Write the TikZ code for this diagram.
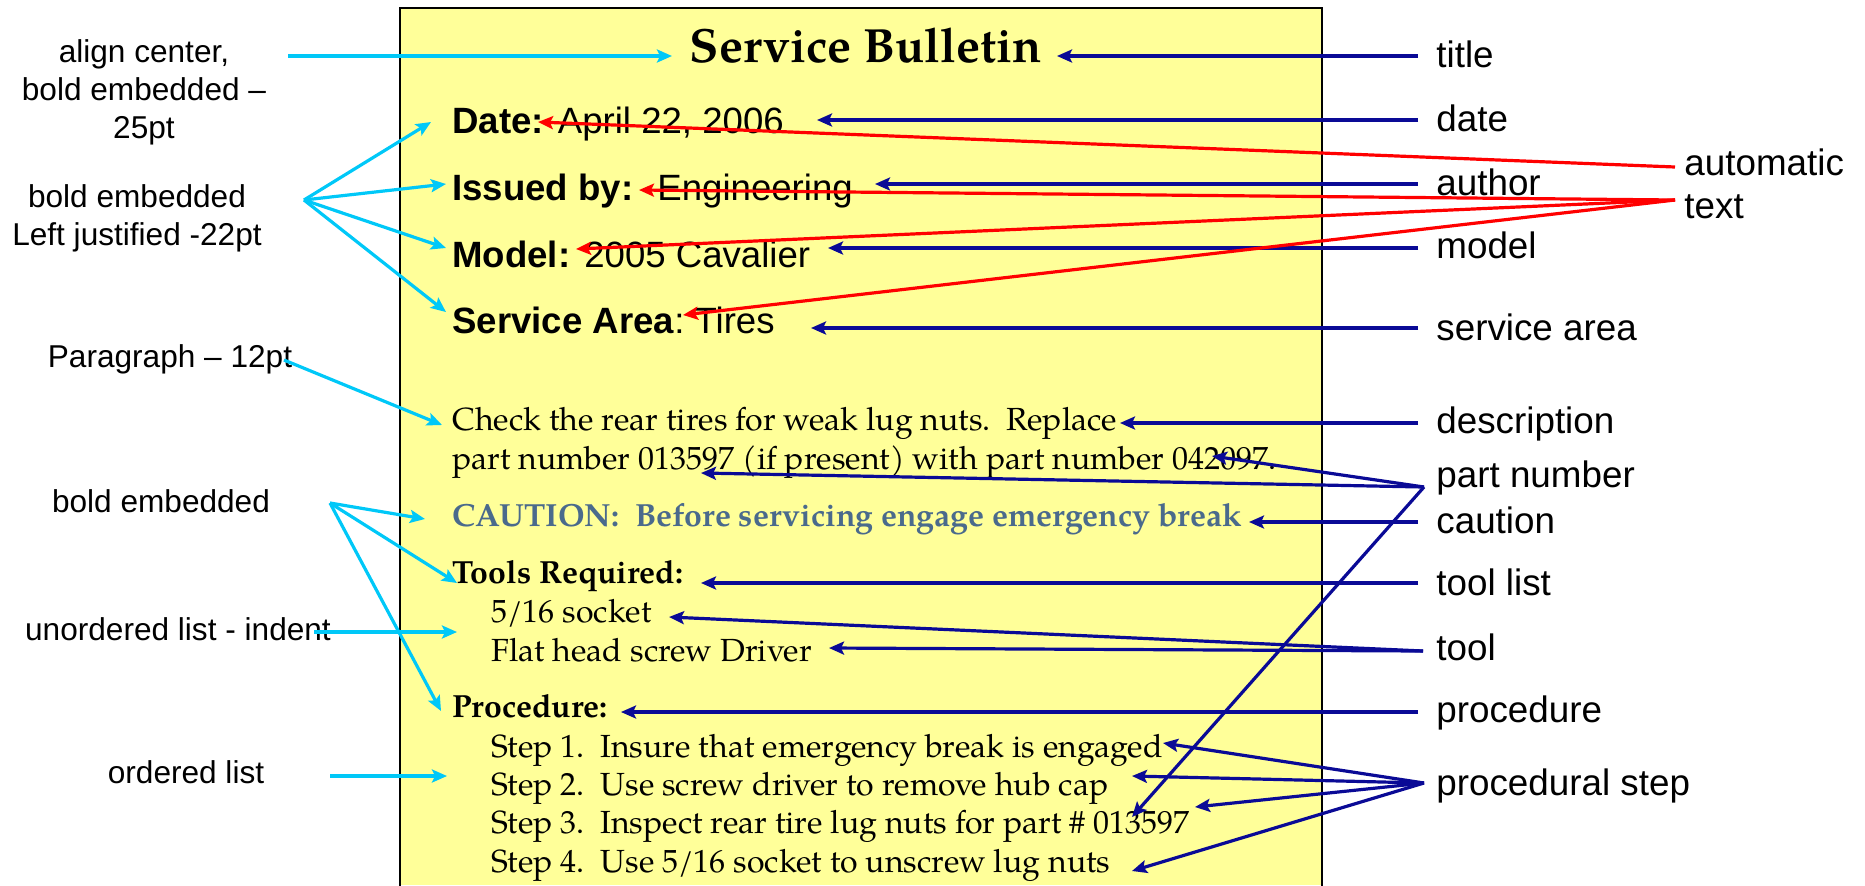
\documentclass[tikz,border=0pt]{standalone}
\usepackage{fontspec}
\setmainfont{Liberation Sans}
\newfontfamily\pal{TeX Gyre Pagella}
\usetikzlibrary{arrows.meta}
\definecolor{docyellow}{HTML}{FFFF99}
\definecolor{cyanc}{HTML}{00C8F8}
\definecolor{navyc}{HTML}{0A0A96}
\definecolor{redc}{HTML}{FF0000}
\definecolor{cautionc}{HTML}{4A6A8C}
\tikzset{
  rlab/.style={font=\fontsize{18.4}{22}\selectfont, anchor=base west, inner sep=0pt},
  llab/.style={font=\fontsize{15.8}{18.9}\selectfont, align=center, anchor=base, inner sep=0pt},
  dsans/.style={font=\fontsize{18.3}{22}\selectfont, anchor=base west, inner sep=0pt},
  dser/.style={font=\pal\fontsize{16}{20}\selectfont, anchor=base west, inner sep=0pt},
  dserb/.style={font=\pal\bfseries\fontsize{16}{20}\selectfont, anchor=base west, inner sep=0pt},
  tip/.style={-{Stealth[length=7.5pt,width=6.5pt,inset=1.5pt]}},
  cyanarr/.style={tip, draw=cyanc, line width=1.6pt},
  navyarr/.style={tip, draw=navyc, line width=1.6pt},
  redarr/.style={tip, draw=redc, line width=1.6pt},
}
\begin{document}
\begin{tikzpicture}[x=0.5pt,y=-0.5pt]
\useasboundingbox (0,0) rectangle (1865,885);
% document sheet
\fill[docyellow] (400,8) rectangle (1322,885);
\draw[line width=1.2pt] (400,890) -- (400,8) -- (1322,8) -- (1322,890);

% document text
\node[font=\pal\bfseries\fontsize{24}{28}\selectfont, anchor=base, inner sep=0pt] (title) at (866,62) {Service Bulletin};
\node[dsans] (date) at (452,133) {\textbf{Date:}\hspace{7pt}April 22, 2006};
\node[dsans] (issued) at (452,200) {\textbf{Issued by:}\hspace{12pt}Engineering};
\node[dsans] (model) at (452,267) {\textbf{Model:}\hspace{7pt}2005 Cavalier};
\node[dsans] (area) at (452,333) {\textbf{Service Area}:\hspace{5pt}Tires};
\node[dser] (desc1) at (452,430) {Check the rear tires for weak lug nuts.\ \ Replace};
\node[dser] (desc2) at (452,469) {part number 013597 (if present) with part number 042097.};
\node[dserb, text=cautionc] (caut) at (452,526) {CAUTION:\ \ Before servicing engage emergency break};
\node[dserb] (tools) at (452,583) {Tools Required:};
\node[dser] (tool1) at (491,622) {5/16 socket};
\node[dser] (tool2) at (491,661) {Flat head screw Driver};
\node[dserb] (proc) at (452,717) {Procedure:};
\node[dser] (step1) at (491,757) {Step 1.\ \ Insure that emergency break is engaged};
\node[dser] (step2) at (491,795) {Step 2.\ \ Use screw driver to remove hub cap};
\node[dser] (step3) at (491,833) {Step 3.\ \ Inspect rear tire lug nuts for part \# 013597};
\node[dser] (step4) at (491,872) {Step 4.\ \ Use 5/16 socket to unscrew lug nuts};

% left labels (base anchor = baseline of last line)
\node[llab] (lalign) at (144,138) {align center,\\bold embedded --\\25pt};
\node[llab] (lbold1) at (137,245) {bold embedded\\Left justified -22pt};
\node[llab] (lpara) at (170,367) {Paragraph -- 12pt};
\node[llab] (lbold2) at (161,512) {bold embedded};
\node[llab] (lunord) at (178,640) {unordered list - indent};
\node[llab] (lord) at (186,783) {ordered list};

% right labels
\node[rlab] (rtitle) at (1436,67) {title};
\node[rlab] (rdate) at (1436,131) {date};
\node[rlab] (rauthor) at (1436,195) {author};
\node[rlab] (rmodel) at (1436,258) {model};
\node[rlab] (rarea) at (1436,340) {service area};
\node[rlab] (rdesc) at (1436,433) {description};
\node[rlab] (rpart) at (1436,487) {part number};
\node[rlab] (rcaut) at (1436,533) {caution};
\node[rlab] (rtlist) at (1436,595) {tool list};
\node[rlab] (rtool) at (1436,660) {tool};
\node[rlab] (rproc) at (1436,722) {procedure};
\node[rlab] (rstep) at (1436,795) {procedural step};
\node[rlab] (rauto1) at (1684,175) {automatic};
\node[rlab] (rauto2) at (1684,218) {text};

% coordinates: cyan
\coordinate (ca0) at (288,56);   \coordinate (ca1) at (672,56);
\coordinate (cb0) at (304,200);
\coordinate (cb1) at (431,122);  \coordinate (cb2) at (446,184);
\coordinate (cb3) at (446,248);  \coordinate (cb4) at (446,312);
\coordinate (cp0) at (284,360);  \coordinate (cp1) at (442,425);
\coordinate (cc0) at (330,503);
\coordinate (cc1) at (425,519);  \coordinate (cc2) at (457,583); \coordinate (cc3) at (441,711);
\coordinate (cu0) at (314,632);  \coordinate (cu1) at (457,632);
\coordinate (co0) at (330,776);  \coordinate (co1) at (447,776);

\draw[cyanarr] (ca0) -- (ca1);
\foreach \t in {cb1,cb2,cb3,cb4} \draw[cyanarr] (cb0) -- (\t);
\draw[cyanarr] (cp0) -- (cp1);
\foreach \t in {cc1,cc2,cc3} \draw[cyanarr] (cc0) -- (\t);
\draw[cyanarr] (cu0) -- (cu1);
\draw[cyanarr] (co0) -- (co1);

% coordinates: navy
\coordinate (ntitle) at (1418,56);  \coordinate (ttitle) at (1057,56);
\coordinate (ndate) at (1418,120);  \coordinate (tdate) at (817,120);
\coordinate (nauth) at (1418,184);  \coordinate (tauth) at (875,184);
\coordinate (nmodel) at (1418,248); \coordinate (tmodel) at (828,248);
\coordinate (narea) at (1418,328);  \coordinate (tarea) at (811,328);
\coordinate (ndesc) at (1418,423);  \coordinate (tdesc) at (1120,423);
\coordinate (npart) at (1424,487);
\coordinate (tpart1) at (1212,456); \coordinate (tpart2) at (701,473); \coordinate (tpart3) at (1132,817);
\coordinate (ncaut) at (1418,522);  \coordinate (tcaut) at (1249,522);
\coordinate (ntlist) at (1418,583); \coordinate (ttlist) at (701,583);
\coordinate (ntool) at (1423,651);
\coordinate (ttool1) at (669,617);  \coordinate (ttool2) at (829,648);
\coordinate (nproc) at (1418,712);  \coordinate (tproc) at (621,712);
\coordinate (nstep) at (1424,783);
\coordinate (tstep1) at (1163,743); \coordinate (tstep2) at (1132,776);
\coordinate (tstep3) at (1195,807); \coordinate (tstep4) at (1132,871);

\draw[navyarr] (ntitle) -- (ttitle);
\draw[navyarr] (ndate) -- (tdate);
\draw[navyarr] (nauth) -- (tauth);
\draw[navyarr] (nmodel) -- (tmodel);
\draw[navyarr] (narea) -- (tarea);
\draw[navyarr] (ndesc) -- (tdesc);
\foreach \t in {tpart1,tpart2,tpart3} \draw[navyarr] (npart) -- (\t);
\draw[navyarr] (ncaut) -- (tcaut);
\draw[navyarr] (ntlist) -- (ttlist);
\foreach \t in {ttool1,ttool2} \draw[navyarr] (ntool) -- (\t);
\draw[navyarr] (nproc) -- (tproc);
\foreach \t in {tstep1,tstep2,tstep3,tstep4} \draw[navyarr] (nstep) -- (\t);

% coordinates: red
\coordinate (rd0) at (1675,167);
\coordinate (rd1) at (1675,200);
\coordinate (trdate) at (538,122);
\coordinate (trissued) at (639,190);
\coordinate (trmodel) at (576,249);
\coordinate (trarea) at (683,315);
\draw[redarr] (rd0) -- (trdate);
\foreach \t in {trissued,trmodel,trarea} \draw[redarr] (rd1) -- (\t);
\end{tikzpicture}
\end{document}
